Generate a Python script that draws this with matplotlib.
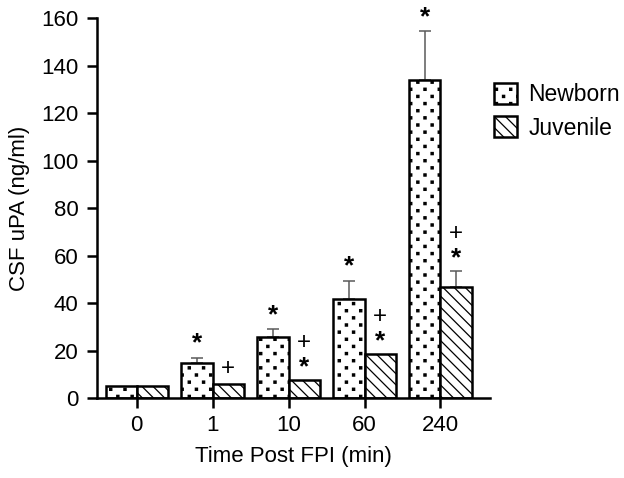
import numpy as np
import matplotlib
matplotlib.use("Agg")
import matplotlib.pyplot as plt
import matplotlib.hatch as mhatch
from matplotlib.path import Path

# ─── Data ────────────────────────────────────────────────────────────────────
times = ["0", "1", "10", "60", "240"]
newborn = [5.0, 14.7, 26.0, 41.8, 133.9]
newborn_err = [0.0, 2.4, 3.0, 7.7, 20.7]
juvenile = [5.0, 6.0, 7.7, 18.6, 46.7]
juvenile_err = [0.0, 0.0, 0.0, 0.0, 7.0]
# significance marks: '*' vs. sham, '+' vs. newborn
newborn_marks = ["", "*", "*", "*", "*"]
juvenile_marks = ["", "+", "+*", "+*", "+*"]


class SquareDots(mhatch.HatchPatternBase):
    """Sparse staggered square dots, used in place of the '.' hatch."""

    def __init__(self, hatch, density):
        n = hatch.count(".")
        self.nx = 7 * n
        self.ny = 14 * n
        self.num_dots = self.nx * self.ny if n else 0
        self.num_vertices = self.num_dots * 5

    def set_vertices_and_codes(self, vertices, codes):
        h = 0.011
        square = np.array([[-h, -h], [h, -h], [h, h], [-h, h], [-h, -h]])
        k = 0
        for r in range(self.ny):
            y = (r + 0.5) / self.ny
            for c in range(self.nx):
                x = (c + 0.25 + 0.5 * (r % 2)) / self.nx
                vertices[k:k + 5] = square + [x, y]
                codes[k:k + 5] = [Path.MOVETO, Path.LINETO, Path.LINETO,
                                  Path.LINETO, Path.CLOSEPOLY]
                k += 5


mhatch._hatch_types = [SquareDots if t is mhatch.SmallFilledCircles else t
                       for t in mhatch._hatch_types]

plt.rcParams["font.family"] = ["Liberation Sans", "DejaVu Sans"]
plt.rcParams["font.size"] = 16
plt.rcParams["hatch.linewidth"] = 0.9
plt.rcParams["hatch.color"] = "black"

fig = plt.figure(figsize=(6.24, 4.78), dpi=100)
ax = fig.add_axes([0.155, 0.1667, 0.63, 0.795])

x = np.arange(len(times))
w = 0.41
lw = 1.8

ax.bar(x - w / 2, newborn, w, color="white", edgecolor="black",
       linewidth=lw, hatch=".", label="Newborn", zorder=2)
ax.bar(x + w / 2, juvenile, w, color="white", edgecolor="black",
       linewidth=lw, hatch="\\" * 3, label="Juvenile", zorder=2)

# upper error bars only
for xs, vals, errs in [(x - w / 2, newborn, newborn_err),
                       (x + w / 2, juvenile, juvenile_err)]:
    errs = np.array(errs)
    m = errs > 0
    ax.errorbar(xs[m], np.array(vals)[m], yerr=[np.zeros(m.sum()), errs[m]],
                fmt="none", ecolor="#5a5a5a", elinewidth=1.1, capsize=4,
                capthick=1.1, zorder=1)

# significance marks
for xs, vals, errs, marks in [(x - w / 2, newborn, newborn_err, newborn_marks),
                              (x + w / 2, juvenile, juvenile_err, juvenile_marks)]:
    for xi, v, e, mk in zip(xs, vals, errs, marks):
        top = v + e
        if "*" in mk:
            dy = 4 if "+" in mk else 5
            ax.annotate("*", (xi, top), xytext=(0, dy), textcoords="offset points",
                        ha="center", va="baseline", fontsize=19,
                        fontweight="bold", clip_on=False)
        if "+" in mk:
            dy = 22.5 if "*" in mk else 6.8
            ax.annotate("+", (xi, top), xytext=(0, dy), textcoords="offset points",
                        ha="center", va="baseline", fontsize=17.5,
                        clip_on=False)

ax.set_xlim(-0.526, 4.65)
ax.set_ylim(0, 160)
ax.set_yticks(np.arange(0, 161, 20))
ax.set_xticks(x)
ax.set_xticklabels(times)

for s in ["top", "right"]:
    ax.spines[s].set_visible(False)
for s in ["left", "bottom"]:
    ax.spines[s].set_linewidth(lw)
ax.tick_params(width=lw, length=7, labelsize=16)
ax.tick_params(axis="x", pad=5)
ax.tick_params(axis="y", pad=6)

ax.set_xlabel("Time Post FPI (min)", fontsize=16, labelpad=7)
ax.set_ylabel("CSF uPA (ng/ml)", fontsize=16, labelpad=8)

ax.legend(loc="upper left", bbox_to_anchor=(494 / 624, 1 - 83 / 478),
          bbox_transform=fig.transFigure, frameon=False, borderpad=0,
          borderaxespad=0, handlelength=1.0, handleheight=1.0,
          handletextpad=0.5, labelspacing=0.45, fontsize=16.5)

fig.savefig("out.png", dpi=100)
